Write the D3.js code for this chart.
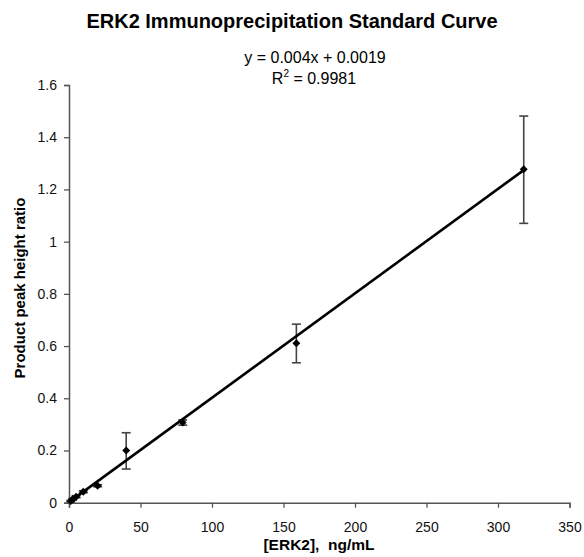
<!DOCTYPE html>
<html><head><meta charset="utf-8">
<script src="https://cdn.jsdelivr.net/npm/d3@7/dist/d3.min.js"></script>
<style>body{margin:0;background:#fff}svg{display:block}text{font-family:"Liberation Sans",Arial,sans-serif}</style>
</head><body><svg id="c" width="584" height="557"></svg>
<script>
const conc = [1.25, 2.5, 5, 10, 20, 40, 79.5, 159, 318];
const ratio = [0.006, 0.013, 0.023, 0.042, 0.065, 0.200, 0.307, 0.611, 1.277];
const errLow = [0.003, 0.003, 0.004, 0.004, 0.004, 0.071, 0.010, 0.075, 0.207];
const errHigh = [0.003, 0.003, 0.004, 0.004, 0.004, 0.068, 0.010, 0.073, 0.204];
const xTicks = [0, 50, 100, 150, 200, 250, 300, 350];
const yTicks = [0, 0.2, 0.4, 0.6, 0.8, 1, 1.2, 1.4, 1.6];
const slope = 0.004, intercept = 0.0019;

const svg = d3.select("#c");
const x = d3.scaleLinear().domain([0, 350]).range([69, 569.5]);
const y = d3.scaleLinear().domain([0, 1.6]).range([502.7, 85]);
const axisCol = "#555";

const gx = svg.append("g").attr("transform", `translate(0,${y(0)})`)
  .call(d3.axisBottom(x).tickValues(xTicks).tickSize(5).tickPadding(14).tickFormat(d3.format("d")));
const gy = svg.append("g").attr("transform", `translate(${x(0)},0)`)
  .call(d3.axisLeft(y).tickValues(yTicks).tickSize(5).tickPadding(7).tickFormat(d => d3.format("~g")(d)));
[gx, gy].forEach(g => {
  g.select(".domain").attr("stroke", axisCol).attr("stroke-width", 1.5);
  g.selectAll(".tick line").attr("stroke", axisCol).attr("stroke-width", 1.3);
  g.selectAll(".tick text").attr("fill", "#111").style("font-size", "14px");
});

// error bars
const eb = svg.append("g").attr("stroke", "#444").attr("stroke-width", 1.6);
conc.forEach((c, i) => {
  const cx = x(c), y1 = y(ratio[i] + errHigh[i]), y2 = y(ratio[i] - errLow[i]);
  eb.append("line").attr("x1", cx).attr("x2", cx).attr("y1", y1).attr("y2", y2);
  eb.append("line").attr("x1", cx - 4.5).attr("x2", cx + 4.5).attr("y1", y1).attr("y2", y1);
  eb.append("line").attr("x1", cx - 4.5).attr("x2", cx + 4.5).attr("y1", y2).attr("y2", y2);
});

// trend line
const x0 = d3.min(conc), x1 = d3.max(conc);
svg.append("line").attr("x1", x(x0)).attr("y1", y(slope * x0 + intercept))
  .attr("x2", x(x1)).attr("y2", y(slope * x1 + intercept))
  .attr("stroke", "#000").attr("stroke-width", 2.6);

// markers
const sym = d3.symbol().type(d3.symbolDiamond2).size(40);
svg.append("g").selectAll("path").data(conc).join("path")
  .attr("d", sym).attr("transform", (d, i) => `translate(${x(d)},${y(ratio[i])})`).attr("fill", "#000");

svg.append("text").attr("x", 292).attr("y", 28).attr("text-anchor", "middle")
  .style("font-size", "20px").style("font-weight", "bold").text("ERK2 Immunoprecipitation Standard Curve");
svg.append("text").attr("x", 315).attr("y", 63).attr("text-anchor", "middle")
  .style("font-size", "16px").text("y = 0.004x + 0.0019");
const r = svg.append("text").attr("x", 314).attr("y", 84).attr("text-anchor", "middle").style("font-size", "16px");
r.append("tspan").text("R");
r.append("tspan").attr("dy", -7).style("font-size", "10px").text("2");
r.append("tspan").attr("dy", 7).text(" = 0.9981");
svg.append("text").attr("x", 319).attr("y", 550).attr("text-anchor", "middle")
  .style("font-size", "15.5px").style("font-weight", "bold").attr("xml:space", "preserve").text("[ERK2],  ng/mL");
svg.append("text").attr("transform", "translate(25,288) rotate(-90)").attr("text-anchor", "middle")
  .style("font-size", "15px").style("font-weight", "bold").text("Product peak height ratio");
</script></body></html>
